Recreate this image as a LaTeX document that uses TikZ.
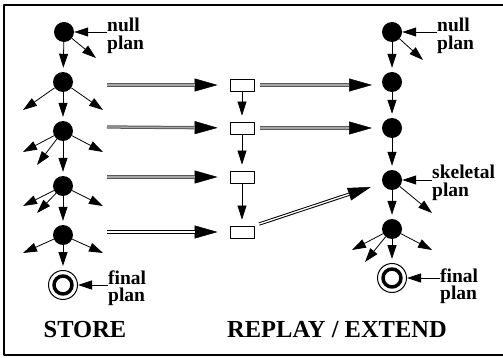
\documentclass[tikz,border=0pt]{standalone}
\usepackage{fontspec}
\setmainfont{Liberation Serif}
\usetikzlibrary{arrows.meta}
\tikzset{
  state/.style={circle,fill,inner sep=0pt,minimum size=20pt},
  goal/.style={circle,draw,line width=1pt,inner sep=0pt,minimum size=29pt,
    path picture={\draw[line width=3.5pt] (path picture bounding box.center) circle (9pt);}},
  case/.style={draw,fill=white,line width=.8pt,inner sep=0pt,minimum width=24pt,minimum height=12pt},
  stub/.style={line width=.8pt,-{Triangle[length=14pt,width=9pt]}},
  lbl/.style={font=\bfseries\fontsize{19.5}{17.5}\selectfont,align=left,inner sep=0pt,anchor=west},
  title/.style={font=\bfseries\fontsize{24.5}{28}\selectfont,inner sep=0pt},
  dbl/.style={line width=1pt,double=white,double distance=1.3pt},
  grey/.style={dbl/.append style={draw=black!65,double=black!35}},
  bigarr/.style={draw,line width=.5pt,-{Triangle[length=23pt,width=13pt]},shorten >=#1,
    postaction={draw,-,dbl,shorten >=#1+23pt}},
}
\begin{document}
\begin{tikzpicture}[x=1pt,y=-1pt,line join=round]
  \useasboundingbox (0,0) rectangle (503,358);
  \draw[line width=1.6pt] (4,5) rectangle (512,355);

  % store side
  \node[state] (s0) at (64,32) {};
  \node[state] (s1) at (63,82) {};
  \node[state] (s2) at (63,131) {};
  \node[state] (s3) at (63,186) {};
  \node[state] (s4) at (63,235) {};
  \node[goal] (sfin) at (63,285) {};

  % replay / extend side
  \node[state] (r0) at (392,32) {};
  \node[state] (r1) at (392,82) {};
  \node[state] (r2) at (392,128) {};
  \node[state] (r3) at (392,180) {};
  \node[state] (r4) at (392,229) {};
  \node[goal] (rfin) at (392,278) {};

  % stored cases
  \node[case] (c1) at (242,85) {};
  \node[case] (c2) at (242,128) {};
  \node[case] (c3) at (242,177) {};
  \node[case] (c4) at (242,232) {};

  \foreach \a/\b in {s0/s1,s1/s2,s2/s3,s3/s4,s4/sfin,r0/r1,r1/r2,r2/r3,r3/r4,r4/rfin}
    \draw[stub,shorten >=4pt] (\a) -- (\b);
  \foreach \a/\b in {c1/c2,c2/c3,c3/c4}
    \draw[stub,shorten >=6pt] (\a) -- (\b);

  % side branches
  \draw[stub] (s0) -- +(32,26);
  \draw[stub] (s1) -- +(-40,28);
  \draw[stub] (s1) -- +(40,28);
  \draw[stub] (s2) -- +(-40,21);
  \draw[stub] (s2) -- +(-26,34);
  \draw[stub] (s2) -- +(40,21);
  \draw[stub] (s3) -- +(-40,20);
  \draw[stub] (s3) -- +(-26,27);
  \draw[stub] (s3) -- +(40,20);
  \draw[stub] (s4) -- +(-40,18);
  \draw[stub] (s4) -- +(40,18);
  \draw[stub] (r0) -- +(31,28);
  \draw[stub] (r3) -- +(40,33);
  \draw[stub] (r4) -- +(-40,21);
  \draw[stub] (r4) -- +(-27,33);
  \draw[stub] (r4) -- +(40,21);

  % labels
  \node[lbl] (lnull) at (107,36) {null\\plan};
  \node[lbl] (lfinal) at (108,288) {final\\plan};
  \node[lbl] (rnull) at (437,36) {null\\plan};
  \node[lbl] (rskel) at (432,183) {skeletal\\plan};
  \node[lbl] (rfinal) at (440,286) {final\\plan};
  \draw[stub] (lnull.west |- s0) -- (s0);
  \draw[stub] (lfinal.west |- sfin) -- (sfin);
  \draw[stub] (rnull.west |- r0) -- (r0);
  \draw[stub] (rskel.west |- r3) -- (r3);
  \draw[stub] (rfinal.west |- rfin) -- (rfin);

  % copying cases across
  \coordinate (a1) at (107,85);
  \coordinate (a2) at (107,127);
  \coordinate (a3) at (107,177);
  \coordinate (a4) at (107,232);
  \draw[bigarr=12pt,grey] (a1) -- (c1);
  \draw[bigarr=12pt,grey] (a2) -- (c2);
  \draw[bigarr=12pt,grey] (a3) -- (c3);
  \draw[bigarr=12pt] (a4) -- (c4);
  \draw[bigarr=20pt,grey,shorten <=6pt] (c1.east) -- (c1 -| r1);
  \draw[bigarr=20pt,grey,shorten <=6pt] (c2.east) -- (c2 -| r2);
  \draw[bigarr=12pt,shorten <=5pt] (c4.north east) -- (r3);

  \node[title] (store) at (85,330) {STORE};
  \node[title] (replay) at (337,330) {REPLAY / EXTEND};
\end{tikzpicture}
\end{document}
